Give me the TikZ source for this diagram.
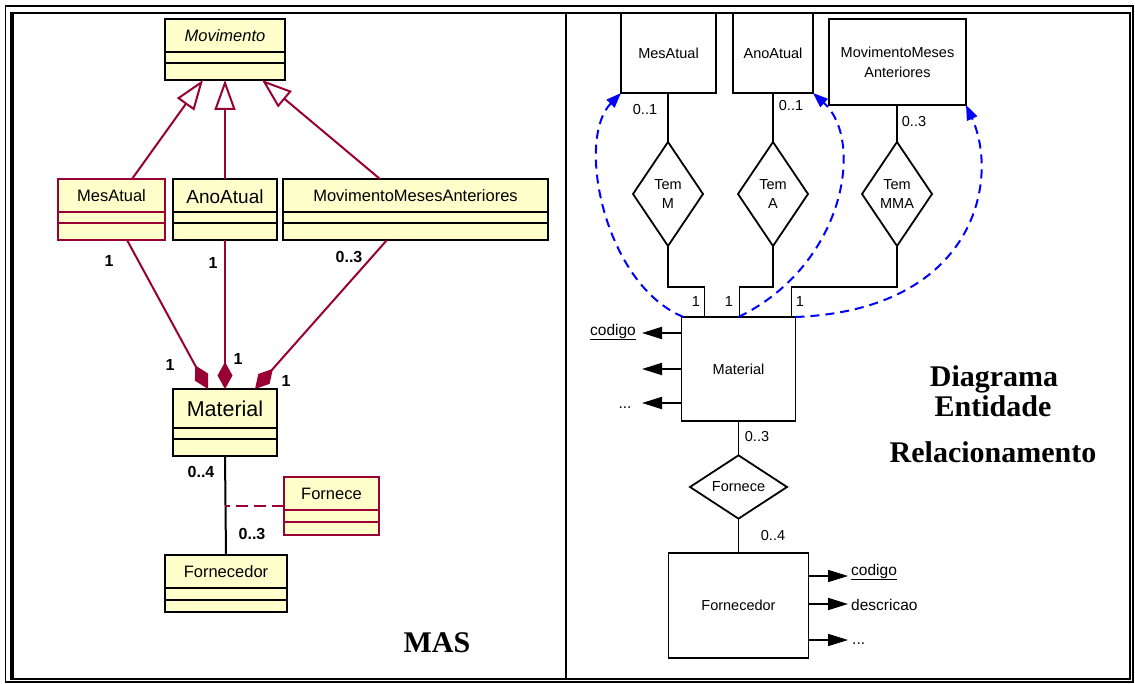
\documentclass[tikz,border=0pt]{standalone}
\usepackage{fontspec}
\setmainfont{Liberation Sans}
\newfontfamily\titlefont{Liberation Serif}
\usetikzlibrary{arrows.meta,shapes.geometric,calc}

\definecolor{umlred}{RGB}{153,0,51}
\definecolor{umlfill}{RGB}{255,255,204}
\definecolor{linkblue}{RGB}{0,0,255}

\tikzset{
  cls/.style={draw=black, line width=2.4pt, fill=umlfill, inner sep=0pt, outer sep=0pt},
  clsred/.style={cls, draw=umlred, line width=2pt},
  sepline/.style={line width=2pt},
  clsname/.style={font=\fontsize{16.5}{18}\selectfont, inner sep=0pt},
  mult/.style={font=\bfseries\fontsize{16}{18}\selectfont, inner sep=0pt},
  generalize/.style={umlred, line width=2pt, -{Triangle[open, fill=white, length=30pt, width=21pt]}},
  compose/.style={umlred, line width=2pt, {Diamond[length=27pt, width=15pt]}-},
  assoc/.style={line width=2pt},
  assocclass/.style={umlred, line width=2pt, dash pattern=on 12pt off 6pt},
  ent/.style={draw, line width=1.8pt, inner sep=0pt, outer sep=0pt, align=center,
              font=\fontsize{14.5}{20}\selectfont},
  rel/.style={draw, shape=diamond, line width=1.8pt, inner sep=0pt, outer sep=0pt, align=center,
              font=\fontsize{14.5}{19}\selectfont},
  erline/.style={line width=1.8pt},
  erlabel/.style={font=\fontsize{14.5}{16}\selectfont, inner sep=0pt},
  attrlabel/.style={font=\fontsize{15.5}{17}\selectfont, inner sep=0pt},
  attr/.style={line width=1.8pt, -{Triangle[length=20pt, width=12pt]}},
  link/.style={linkblue, line width=2pt, dash pattern=on 9pt off 6pt,
               -{Triangle[length=15pt, width=11pt]}},
  heading/.style={font=\titlefont\bfseries\fontsize{30}{34}\selectfont, inner sep=0pt, anchor=base},
}

% #1 style, #2 colour, #3 name, #4 left, #5 top, #6 width, #7 height, #8/#9 separator offsets
\newcommand\classbox[9]{%
  \node[#1, minimum width=#6pt, minimum height=#7pt, anchor=north west] (#3) at (#4,#5) {};
  \draw[sepline,#2] ($(#3.north west)+(0,#8)$) -- ($(#3.north east)+(0,#8)$);
  \draw[sepline,#2] ($(#3.north west)+(0,#9)$) -- ($(#3.north east)+(0,#9)$);
}

\begin{document}
\begin{tikzpicture}[x=1pt,y=-1pt]
\useasboundingbox (0,0) rectangle (1135,684);

% frame and divider
\draw[line width=1.5pt] (5.5,6) rectangle (1133,682);
\draw[line width=2pt] (12,13) rectangle (1130,679);
\draw[line width=4pt] (11.5,12) -- (11.5,680);
\draw[line width=1.3pt] (566,13) -- (566,679);

% ---------------- UML class diagram ----------------
\classbox{cls}{black}{movimento}{165}{19}{120}{61}{33}{44}
\node[clsname, font=\itshape\fontsize{16.5}{18}\selectfont] (movimentoName) at ($(movimento.north)+(0,16.5)$) {Movimento};

\classbox{clsred}{umlred}{mesAtual}{58}{179}{107}{61}{33}{44}
\node[clsname] (mesAtualName) at ($(mesAtual.north)+(0,16.5)$) {MesAtual};

\classbox{cls}{black}{anoAtual}{173}{179}{104}{61}{33}{44}
\node[clsname, font=\fontsize{19}{20}\selectfont] (anoAtualName) at ($(anoAtual.north)+(0,17.5)$) {AnoAtual};

\classbox{cls}{black}{movMeses}{283}{179}{265}{61}{33}{44}
\node[clsname] (movMesesName) at ($(movMeses.north)+(0,16.5)$) {MovimentoMesesAnteriores};

\classbox{cls}{black}{material}{173}{389}{104}{67}{39}{50}
\node[clsname, font=\fontsize{21.5}{22}\selectfont] (materialName) at ($(material.north)+(0,20)$) {Material};

\classbox{clsred}{umlred}{fornece}{284}{477}{95}{58}{33}{45}
\node[clsname] (forneceName) at ($(fornece.north)+(0,16.5)$) {Fornece};

\classbox{cls}{black}{fornecedor}{165}{555}{122}{57}{33}{45}
\node[clsname] (fornecedorName) at ($(fornecedor.north)+(0,16.5)$) {Fornecedor};

% generalizations
\draw[generalize] ([xshift=74pt]mesAtual.north west) -- ([xshift=38pt]movimento.south west);
\draw[generalize] (anoAtual.north) -- (movimento.south);
\draw[generalize] ([xshift=97pt]movMeses.north west) -- ([xshift=-23pt]movimento.south east);

% compositions
\draw[compose] ([xshift=35pt]material.north west) -- ([xshift=-38pt]mesAtual.south east);
\draw[compose] (material.north) -- (anoAtual.south);
\draw[compose] ([xshift=-22pt]material.north east) -- ([xshift=104pt]movMeses.south west);

% association with association class
\draw[assoc] (material.south) -- (fornecedor.north);
\draw[assocclass] (fornece.west) -- (fornece.west -| material.south);

% multiplicities
\node[mult] (m1) at (109,261) {1};
\node[mult] (m2) at (213,263) {1};
\node[mult] (m3) at (349,257) {0..3};
\node[mult] (m4) at (170,365) {1};
\node[mult] (m5) at (238,359) {1};
\node[mult] (m6) at (286,381) {1};
\node[mult] (m7) at (201,472) {0..4};
\node[mult] (m8) at (252,534) {0..3};

\node[heading] (masTitle) at (437,652) {MAS};

% ---------------- ER diagram ----------------
\node[ent, minimum width=95pt, minimum height=80pt] (mesER) at (668.5,53) {MesAtual};
\node[ent, minimum width=80pt, minimum height=80pt] (anoER) at (773,53) {AnoAtual};
\node[ent, minimum width=137pt, minimum height=86pt] (mmaER) at (897.5,62) {MovimentoMeses\\Anteriores};

\node[rel, minimum width=70pt, minimum height=104pt] (temM) at (668,194) {Tem\\M};
\node[rel, minimum width=70pt, minimum height=104pt] (temA) at (773,194) {Tem\\A};
\node[rel, minimum width=70pt, minimum height=104pt] (temMMA) at (897,194) {Tem\\MMA};

\node[ent, minimum width=114pt, minimum height=104pt] (matER) at (738.5,369) {Material};
\node[rel, minimum width=97pt, minimum height=60pt] (forneceER) at (738.5,487) {Fornece};
\node[ent, minimum width=140pt, minimum height=105pt] (fornecedorER) at (738.5,605.5) {Fornecedor};

\draw[erline] (temM.north) -- (temM.north |- mesER.south);
\draw[erline] (temA.north) -- (temA.north |- anoER.south);
\draw[erline] (temMMA.north) -- (temMMA.north |- mmaER.south);

\draw[erline] (temM.south) -- ++(0,41) -| ([xshift=23pt]matER.north west);
\draw[erline] (temA.south) -- ++(0,41) -| ([xshift=58pt]matER.north west);
\draw[erline] (temMMA.south) -- ++(0,41) -| ([xshift=-4pt]matER.north east);

\draw[erline] (matER.south) -- (forneceER.north);
\draw[erline] (forneceER.south) -- (fornecedorER.north);

% cardinalities
\node[erlabel] (c1) at (645,110) {0..1};
\node[erlabel] (c2) at (791,106) {0..1};
\node[erlabel] (c3) at (914,122) {0..3};
\node[erlabel] (c4) at (696,302) {1};
\node[erlabel] (c5) at (729,302) {1};
\node[erlabel] (c6) at (800,302) {1};
\node[erlabel] (c7) at (757,437) {0..3};
\node[erlabel] (c8) at (773,536) {0..4};

% attributes of Material
\node[attrlabel, anchor=east] (matCodigo) at (636,332) {\underline{codigo}};
\coordinate (matAttr) at (642,369);
\node[attrlabel, anchor=base] (matMore) at (625,409) {...};
\draw[attr] (matER.west |- 0,333) -- (642,333);
\draw[attr] (matER.west |- matAttr) -- (matAttr);
\draw[attr] (matER.west |- 0,403) -- (642,403);

% attributes of Fornecedor
\node[attrlabel, anchor=west] (fornCodigo) at (851,572) {\underline{codigo}};
\node[attrlabel, anchor=west] (fornDescricao) at (851,605) {descricao};
\node[attrlabel, anchor=base west] (fornMore) at (852,644) {...};
\draw[attr] (fornecedorER.east |- 0,576) -- (848,576);
\draw[attr] (fornecedorER.east |- 0,604) -- (848,604);
\draw[attr] (fornecedorER.east |- 0,640) -- (848,640);

% dashed links from Material to the period entities
\draw[link] ([xshift=2pt]matER.north west) .. controls (605,285) and (575,140) .. (mesER.south west);
\draw[link] (matER.north) .. controls (845,265) and (865,140) .. (anoER.south east);
\draw[link] (matER.north east) .. controls (975,310) and (1000,180) .. (mmaER.south east);

\node[heading] (erTitle1) at (994,387) {Diagrama};
\node[heading] (erTitle2) at (993,417) {Entidade};
\node[heading] (erTitle3) at (993,462) {Relacionamento};
\end{tikzpicture}
\end{document}
